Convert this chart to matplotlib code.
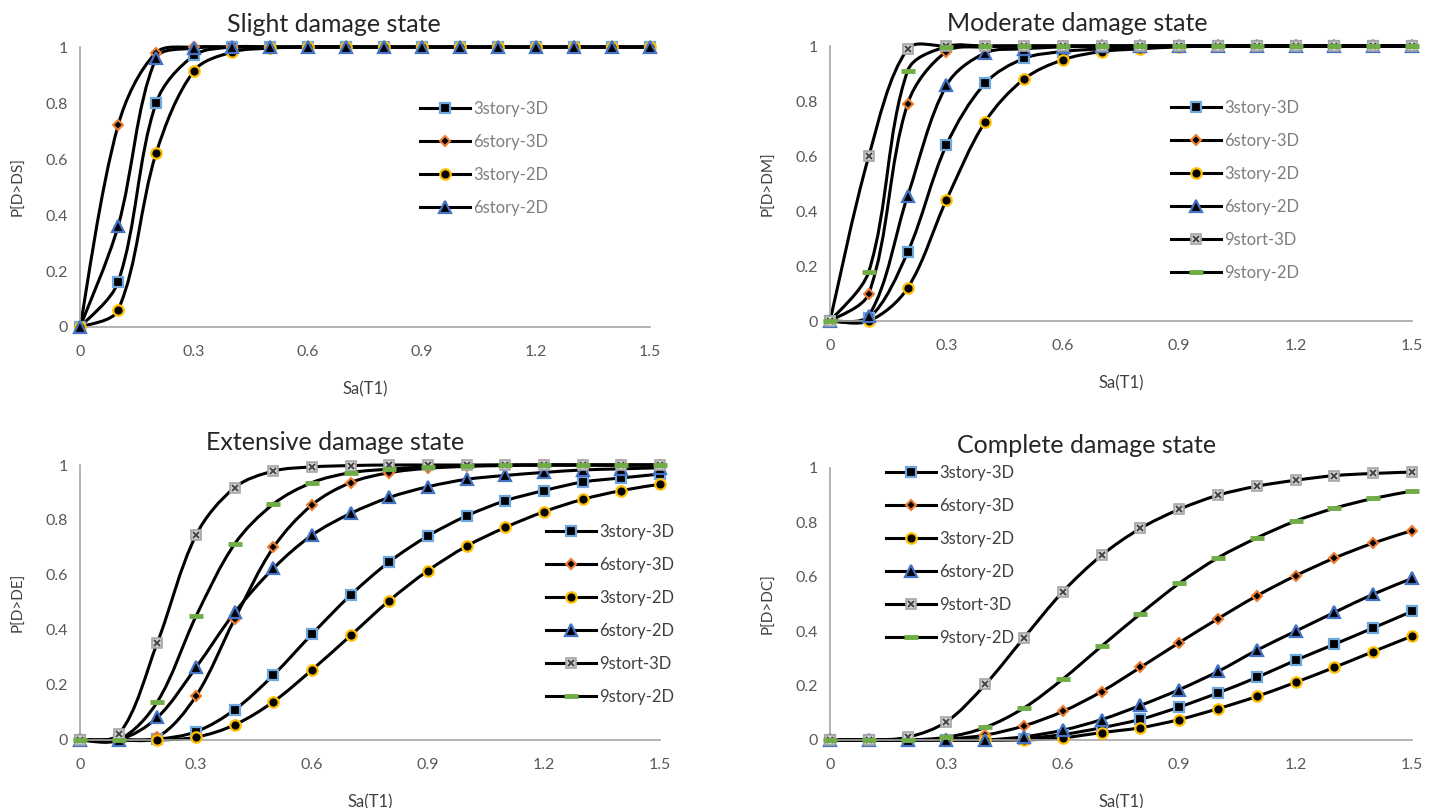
import numpy as np
import matplotlib
matplotlib.use("Agg")
import matplotlib.pyplot as plt
from matplotlib.path import Path
from matplotlib.patches import PathPatch
from matplotlib.lines import Line2D

plt.rcParams['font.family'] = ['Lato', 'DejaVu Sans']

# Sa(T1) values shared by every curve
sa = [0.0, 0.1, 0.2, 0.3, 0.4, 0.5, 0.6, 0.7, 0.8, 0.9, 1.0, 1.1, 1.2, 1.3, 1.4, 1.5]
x_ticks = [0, 0.3, 0.6, 0.9, 1.2, 1.5]
y_ticks = [0, 0.2, 0.4, 0.6, 0.8, 1]

# Slight damage state
ds_3s3d = [0, 0.16, 0.80, 0.97, 1.0, 1, 1, 1, 1, 1, 1, 1, 1, 1, 1, 1]
ds_6s3d = [0, 0.72, 0.98, 1.0, 1, 1, 1, 1, 1, 1, 1, 1, 1, 1, 1, 1]
ds_3s2d = [0, 0.06, 0.62, 0.915, 0.982, 0.996, 1, 1, 1, 1, 1, 1, 1, 1, 1, 1]
ds_6s2d = [0, 0.36, 0.96, 0.996, 1.0, 1, 1, 1, 1, 1, 1, 1, 1, 1, 1, 1]

# Moderate damage state
dm_3s3d = [0, 0.01, 0.25, 0.64, 0.865, 0.955, 0.98, 0.99, 0.997, 1, 1, 1, 1, 1, 1, 1]
dm_6s3d = [0, 0.10, 0.79, 0.98, 0.997, 1, 1, 1, 1, 1, 1, 1, 1, 1, 1, 1]
dm_3s2d = [0, 0.0, 0.12, 0.44, 0.725, 0.88, 0.95, 0.98, 0.99, 0.997, 1, 1, 1, 1, 1, 1]
dm_6s2d = [0, 0.02, 0.455, 0.857, 0.975, 0.99, 0.997, 1, 1, 1, 1, 1, 1, 1, 1, 1]
dm_9s3d = [0, 0.60, 0.99, 1.0, 1, 1, 1, 1, 1, 1, 1, 1, 1, 1, 1, 1]
dm_9s2d = [0, 0.18, 0.91, 0.998, 1, 1, 1, 1, 1, 1, 1, 1, 1, 1, 1, 1]

# Extensive damage state
de_3s3d = [0, 0, 0.003, 0.03, 0.11, 0.236, 0.385, 0.527, 0.648, 0.742, 0.815, 0.87, 0.907, 0.938, 0.953, 0.967]
de_6s3d = [0, 0, 0.01, 0.16, 0.44, 0.70, 0.855, 0.936, 0.972, 0.988, 0.995, 0.998, 1, 1, 1, 1]
de_3s2d = [0, 0, 0.0, 0.01, 0.055, 0.139, 0.255, 0.38, 0.507, 0.616, 0.705, 0.773, 0.83, 0.875, 0.907, 0.93]
de_6s2d = [0, 0, 0.082, 0.264, 0.464, 0.624, 0.745, 0.824, 0.882, 0.921, 0.948, 0.962, 0.973, 0.982, 0.986, 0.99]
de_9s3d = [0, 0.02, 0.354, 0.745, 0.918, 0.978, 0.993, 0.998, 1, 1, 1, 1, 1, 1, 1, 1]
de_9s2d = [0, 0.0, 0.139, 0.45, 0.713, 0.858, 0.936, 0.972, 0.985, 0.993, 0.997, 1, 1, 1, 1, 1]

# Complete damage state
dc_3s3d = [0, 0, 0, 0, 0.0, 0.005, 0.02, 0.045, 0.076, 0.121, 0.173, 0.23, 0.293, 0.352, 0.412, 0.473]
dc_6s3d = [0, 0, 0, 0.003, 0.018, 0.052, 0.105, 0.178, 0.267, 0.358, 0.446, 0.53, 0.604, 0.669, 0.724, 0.77]
dc_3s2d = [0, 0, 0, 0, 0, 0.0, 0.008, 0.027, 0.045, 0.075, 0.115, 0.16, 0.212, 0.267, 0.325, 0.382]
dc_6s2d = [0, 0, 0, 0, 0.0, 0.012, 0.036, 0.075, 0.127, 0.185, 0.252, 0.33, 0.40, 0.469, 0.536, 0.594]
dc_9s3d = [0, 0, 0.01, 0.067, 0.204, 0.376, 0.545, 0.679, 0.778, 0.848, 0.90, 0.933, 0.955, 0.972, 0.98, 0.985]
dc_9s2d = [0, 0, 0.0, 0.01, 0.046, 0.118, 0.224, 0.345, 0.464, 0.576, 0.67, 0.743, 0.805, 0.852, 0.888, 0.915]

names = ['3story-3D', '6story-3D', '3story-2D', '6story-2D', '9stort-3D', '9story-2D']

# marker look for each series (a list means markers drawn on top of each other)
styles = {
    '3story-3D': [dict(marker='s', ms=7.5, mfc='black', mec='#6FA8DC', mew=1.6)],
    '6story-3D': [dict(marker='D', ms=5.5, mfc='black', mec='#ED7D31', mew=1.5)],
    '3story-2D': [dict(marker='o', ms=7.5, mfc='black', mec='#FFC000', mew=1.6)],
    '6story-2D': [dict(marker='^', ms=8, mfc='black', mec='#4472C4', mew=1.6)],
    '9stort-3D': [dict(marker='s', ms=7, mfc='#D0D0D0', mec='#A5A5A5', mew=1.2),
                  dict(marker='x', ms=4.5, mfc='none', mec='#404040', mew=1.3)],
    '9story-2D': [dict(marker='_', ms=10, mfc='#70AD47', mec='#70AD47', mew=3.5)],
}


def smooth_path(ax, x, y):
    # Excel-like smoothed line: cubic bezier through every point,
    # control arms weighted by segment lengths on screen
    pts = np.column_stack([np.asarray(x, float), np.asarray(y, float)])
    bbox = ax.get_position()
    sx = bbox.width * 1440 / 1.5
    sy = bbox.height * 808 / 1.0
    scr = pts * [sx, sy]
    n = len(pts)
    d = np.hypot(*np.diff(scr, axis=0).T)
    verts = [pts[0]]
    codes = [Path.MOVETO]
    for i in range(n - 1):
        p0 = pts[i - 1] if i > 0 else pts[i]
        p1 = pts[i]
        p2 = pts[i + 1]
        p3 = pts[i + 2] if i + 2 < n else pts[i + 1]
        d01 = d[i - 1] if i > 0 else d[i]
        d12 = d[i]
        d23 = d[i + 1] if i + 1 < n - 1 else d[i]
        w1 = d12 / (d01 + d12) if d01 + d12 > 0 else 0.5
        w2 = d12 / (d12 + d23) if d12 + d23 > 0 else 0.5
        c1 = p1 + (p2 - p0) * w1 / 3.0
        c2 = p2 - (p3 - p1) * w2 / 3.0
        verts += [c1, c2, p2]
        codes += [Path.CURVE4] * 3
    return Path(verts, codes)


def draw_panel(ax, title, title_x, ylabel, series, legend_loc, legend_color):
    for name, vals in series:
        patch = PathPatch(smooth_path(ax, sa, vals), facecolor='none',
                          edgecolor='black', lw=2.2, clip_on=False, zorder=2)
        ax.add_patch(patch)
        for st in styles[name]:
            ax.plot(sa, vals, ls='none', clip_on=False, zorder=3, **st)

    ax.set_xlim(0, 1.5)
    ax.set_ylim(0, 1)
    ax.set_xticks(x_ticks)
    ax.set_xticklabels(['0', '0.3', '0.6', '0.9', '1.2', '1.5'])
    ax.set_yticks(y_ticks)
    ax.set_yticklabels(['0', '0.2', '0.4', '0.6', '0.8', '1'])
    ax.tick_params(length=0, labelsize=11.5, colors='#595959')
    ax.tick_params(axis='x', pad=13)
    ax.tick_params(axis='y', pad=9)
    for side in ['top', 'right']:
        ax.spines[side].set_visible(False)
    for side in ['left', 'bottom']:
        ax.spines[side].set_color('#A6A6A6')
        ax.spines[side].set_linewidth(1.2)

    ax.set_title(title, fontsize=18, color='#262626', pad=11, x=title_x)
    ax.set_xlabel('Sa(T1)', fontsize=12, color='#404040', labelpad=16)
    ax.set_ylabel(ylabel, fontsize=11, color='#404040', labelpad=14)

    handles = []
    for name, vals in series:
        parts = []
        for k, st in enumerate(styles[name]):
            if k == 0:
                parts.append(Line2D([], [], color='black', lw=2.2, **st))
            else:
                parts.append(Line2D([], [], ls='none', **st))
        handles.append(tuple(parts) if len(parts) > 1 else parts[0])
    ax.legend(handles=handles, labels=[s[0] for s in series],
              loc='upper left', bbox_to_anchor=legend_loc,
              frameon=False, fontsize=12, handlelength=3.0, labelspacing=1.02,
              handletextpad=0.2, labelcolor=legend_color)


fig = plt.figure(figsize=(14.4, 8.08), dpi=100)
ax1 = fig.add_axes([0.0556, 0.5953, 0.3958, 0.3465])
ax2 = fig.add_axes([0.5764, 0.6027, 0.4042, 0.3403])
ax3 = fig.add_axes([0.0556, 0.0842, 0.4027, 0.3403])
ax4 = fig.add_axes([0.5764, 0.0842, 0.4042, 0.3366])

draw_panel(ax1, 'Slight damage state', 0.445, 'P[D>DS]',
           list(zip(names[:4], [ds_3s3d, ds_6s3d, ds_3s2d, ds_6s2d])),
           (0.57, 0.86), '#7F7F7F')
draw_panel(ax2, 'Moderate damage state', 0.425, 'P[D>DM]',
           list(zip(names, [dm_3s3d, dm_6s3d, dm_3s2d, dm_6s2d, dm_9s3d, dm_9s2d])),
           (0.56, 0.86), '#7F7F7F')
draw_panel(ax3, 'Extensive damage state', 0.44, 'P[D>DE]',
           list(zip(names, [de_3s3d, de_6s3d, de_3s2d, de_6s2d, de_9s3d, de_9s2d])),
           (0.778, 0.84), '#404040')
draw_panel(ax4, 'Complete damage state', 0.44, 'P[D>DC]',
           list(zip(names, [dc_3s3d, dc_6s3d, dc_3s2d, dc_6s2d, dc_9s3d, dc_9s2d])),
           (0.07, 1.065), '#404040')

fig.savefig('out.png', dpi=100)
